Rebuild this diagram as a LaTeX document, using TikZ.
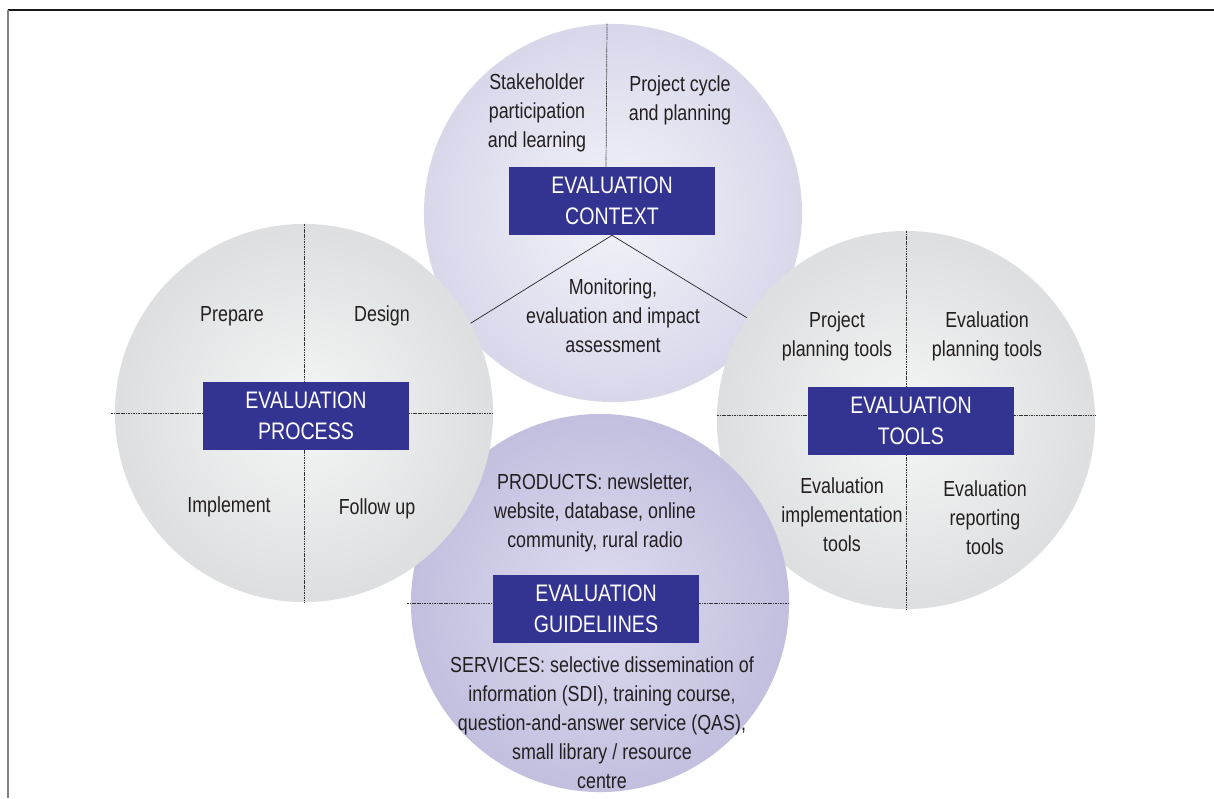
\documentclass[tikz,border=0pt]{standalone}
\usepackage{fontspec}
\setmainfont[FakeStretch=0.82]{Liberation Sans}

\definecolor{boxblue}{RGB}{51,51,145}
\definecolor{ctxin}{RGB}{243,243,249}
\definecolor{ctxout}{RGB}{190,188,221}
\definecolor{guidein}{RGB}{222,220,240}
\definecolor{guideout}{RGB}{166,162,206}
\definecolor{greyin}{RGB}{245,246,246}
\definecolor{greyout}{RGB}{198,199,201}
\definecolor{inktext}{RGB}{35,31,32}

\pgfdeclareradialshading{ctxshade}{\pgfpoint{0bp}{0bp}}{color(0bp)=(ctxin); color(50bp)=(ctxout)}
\pgfdeclareradialshading{guideshade}{\pgfpoint{0bp}{0bp}}{color(0bp)=(guidein); color(50bp)=(guideout)}
\pgfdeclareradialshading{greyshade}{\pgfpoint{0bp}{0bp}}{color(0bp)=(greyin); color(50bp)=(greyout)}

\begin{document}
\begin{tikzpicture}[
  x=0.025cm, y=-0.025cm,
  % STYLES
  ball/.style={circle, minimum size=9.45cm, inner sep=0pt, draw=none},
  ctxball/.style={ball, shading=ctxshade},
  guideball/.style={ball, shading=guideshade},
  greyball/.style={ball, shading=greyshade},
  % OWNs
  titlebox/.style={rectangle, fill=boxblue, text=white, align=center,
    minimum width=5.15cm, minimum height=1.7cm, inner sep=0pt,
    font=\fontsize{17}{22}\selectfont},
  lbl/.style={align=center, text=inktext, inner sep=0pt,
    font=\fontsize{15.5}{20.6}\selectfont},
  divline/.style={black!80, line width=0.5pt, dash pattern=on 0.8pt off 0.4pt},
  spoke/.style={black!85, line width=0.5pt}]

  \useasboundingbox (0,0) rectangle (1214,798);

  % frame
  \coordinate (fnw) at (8,10);
  \coordinate (fne) at (1214,10);
  \coordinate (fsw) at (8,798);
  \draw[black!90, line width=1.1pt] (fnw) -- (fne);
  \draw[black!50, line width=2pt] (fnw) -- (fsw);

  % context
  \node[ctxball] (ctx) at (613,213) {};
  \coordinate (ctxL) at (455,333);
  \coordinate (ctxR) at (785,341);
  \node[titlebox] (ctxbox) at (612,201) {EVALUATION\\CONTEXT};
  \draw[divline] ([xshift=-0.15cm]ctx.north) -- ([xshift=-0.15cm]ctxbox.north);
  \draw[spoke] (ctxbox.south) -- (ctxL);
  \draw[spoke] (ctxbox.south) -- (ctxR);
  \node[lbl] (stake) at (537,113) {Stakeholder\\participation\\and learning};
  \node[lbl] (cycle) at (680,100) {Project cycle\\and planning};
  \node[lbl] (monit) at (613,316) {Monitoring,\\evaluation and impact\\assessment};

  % tools
  \node[greyball] (tools) at (906,420) {};
  \draw[divline] (tools.north) -- (tools.south);
  \draw[divline] ([yshift=0.12cm]tools.west) -- ([yshift=0.12cm]tools.east);
  \node[titlebox] (toolsbox) at (911,421) {EVALUATION\\TOOLS};
  \node[lbl] (projtools) at (837,336) {Project\\planning tools};
  \node[lbl] (evplan) at (987,336) {Evaluation\\planning tools};
  \node[lbl] (evimpl) at (842,515) {Evaluation\\implementation\\tools};
  \node[lbl] (evrep) at (985,518) {Evaluation\\reporting\\tools};

  % guidelines
  \node[guideball] (guide) at (600,603) {};
  \draw[divline] ([xshift=-0.1cm]guide.west) -- (guide.east);
  \node[titlebox] (guidebox) at (596,609) {EVALUATION\\GUIDELIINES};
  \node[lbl] (prod) at (595,513) {PRODUCTS: newsletter,\\website, database, online\\community, rural radio};
  \node[lbl] (serv) at (602,723) {SERVICES: selective dissemination of\\information (SDI), training course,\\question-and-answer service (QAS),\\small library / resource\\centre};

  % process
  \node[greyball] (proc) at (304,413) {};
  \draw[divline] (proc.north) -- (proc.south);
  \draw[divline] ([xshift=-0.1cm]proc.west) -- (proc.east);
  \node[titlebox] (procbox) at (306,416) {EVALUATION\\PROCESS};
  \node[lbl] (prep) at (232,316) {Prepare};
  \node[lbl] (design) at (382,316) {Design};
  \node[lbl] (impl) at (229,507) {Implement};
  \node[lbl] (follow) at (377,509) {Follow up};
\end{tikzpicture}
\end{document}
